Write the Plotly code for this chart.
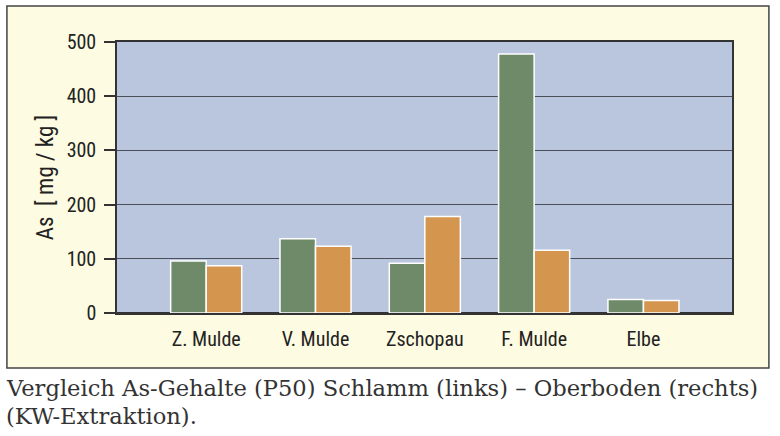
import plotly.graph_objects as go

# === Daten ===
rivers = ["Z. Mulde", "V. Mulde", "Zschopau", "F. Mulde", "Elbe"]
schlamm = [96, 137, 92, 478, 25]      # links, grün
oberboden = [87, 123, 178, 116, 23]   # rechts, orange
y_ticks = [0, 100, 200, 300, 400, 500]

narrow = "Liberation Sans Narrow, Arial Narrow, Roboto Condensed, Roboto, sans-serif"
serif = "DejaVu Serif, Liberation Serif, serif"

fig = go.Figure()
fig.add_trace(go.Bar(
    x=rivers, y=schlamm, name="Schlamm",
    marker=dict(color="#6f8a68", line=dict(color="white", width=1.5)),
))
fig.add_trace(go.Bar(
    x=rivers, y=oberboden, name="Oberboden",
    marker=dict(color="#d4964f", line=dict(color="white", width=1.5)),
))

# Rahmen mit gelbem Hintergrund + blaue Zeichenfläche
fig.add_shape(type="rect", xref="paper", yref="paper",
              x0=-0.179, x1=1.060, y0=-0.203, y1=1.133,
              fillcolor="#fdfbe1", line=dict(color="#444444", width=1.5),
              layer="below")
fig.add_shape(type="rect", xref="paper", yref="paper",
              x0=0, x1=1, y0=0, y1=1,
              fillcolor="#b9c6dd", line=dict(width=0),
              layer="below")

# Y-Achsentitel
fig.add_annotation(text="As  [ mg / kg ]", xref="paper", yref="paper",
                   x=-0.141, y=0.5, textangle=-90, showarrow=False,
                   font=dict(family=narrow, size=23, color="#222222"))

# Bildunterschrift (zwei Zeilen)
caption = ["Vergleich As-Gehalte (P50) Schlamm (links) \u2013 Oberboden (rechts)",
           "(KW-Extraktion)."]
for line, ypos in zip(caption, [-0.276, -0.379]):
    fig.add_annotation(text=line, xref="paper", yref="paper", x=-0.184, y=ypos,
                       xanchor="left", yanchor="middle", showarrow=False,
                       font=dict(family=serif, size=22.6, color="#333333"))

fig.update_layout(
    width=780, height=436,
    margin=dict(l=117, r=48, t=42, b=123),
    paper_bgcolor="white",
    plot_bgcolor="rgba(0,0,0,0)",
    barmode="group", bargap=0.35, bargroupgap=0,
    showlegend=False,
    xaxis=dict(
        range=[-0.816, 4.81], showgrid=False, ticks="",
        showline=True, linecolor="#333333", linewidth=1.5, mirror=True,
        tickfont=dict(family=narrow, size=20, color="#222222"),
        ticklabelstandoff=7,
    ),
    yaxis=dict(
        range=[0, 500], tickvals=y_ticks,
        showgrid=True, gridcolor="#4a4f5a", gridwidth=1,
        zeroline=True, zerolinecolor="#333333", zerolinewidth=2,
        showline=True, linecolor="#333333", linewidth=1.5, mirror=True,
        ticks="outside", ticklen=11, tickcolor="#333333", tickwidth=1.5,
        tickfont=dict(family=narrow, size=20, color="#222222"),
        ticklabelstandoff=4,
    ),
)

fig.write_html("out.html", config={"displayModeBar": False},
               post_script="document.body.style.margin='0';")
